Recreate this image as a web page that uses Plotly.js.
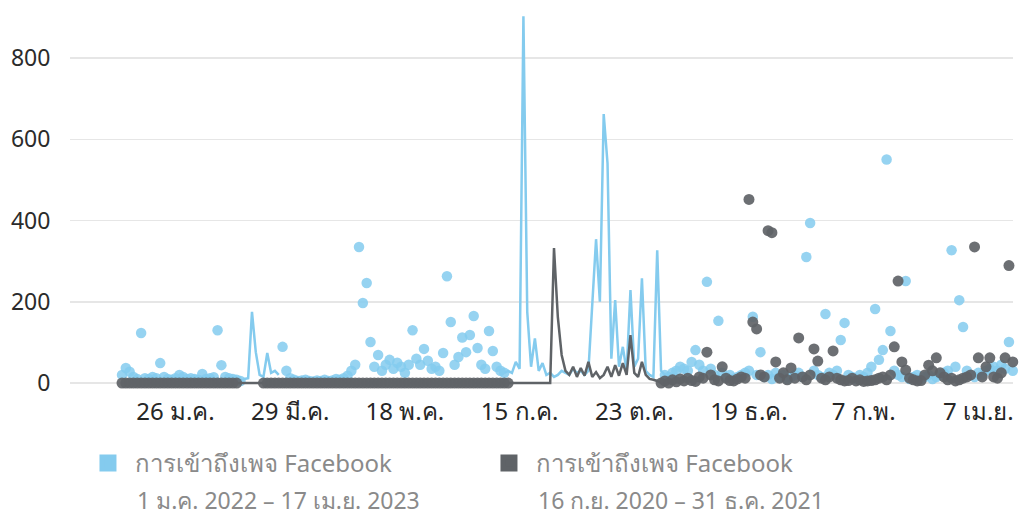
<!DOCTYPE html>
<html>
<head>
<meta charset="utf-8">
<script src="https://cdn.plot.ly/plotly-3.0.1.min.js"></script>
<style>html,body{margin:0;padding:0;background:#fff;}#chart{width:1025px;height:518px;}</style>
</head>
<body>
<div id="chart"></div>
<script>
const _ = null;
// Day index along the comparison axis (both periods are 472 days, sampled here at ~2 days/point)
const tickIndex  = [14, 44, 74, 104, 134, 164, 194, 224];
const tickLabels = ["26 ม.ค.", "29 มี.ค.", "18 พ.ค.", "15 ก.ค.", "23 ต.ค.", "19 ธ.ค.", "7 ก.พ.", "7 เม.ย."];

const seriesNames   = ["การเข้าถึงเพจ Facebook", "การเข้าถึงเพจ Facebook"];
const seriesPeriods = ["1 ม.ค. 2022 – 17 เม.ย. 2023", "16 ก.ย. 2020 – 31 ธ.ค. 2021"];

// Current period (1 Jan 2022 – 17 Apr 2023): isolated days drawn as dots
const currentDots = [
  20,37,28,15,10,123,12,10,15,12,
  49,15,10,8,12,20,15,10,12,10,
  8,22,10,12,14,130,44,15,12,10,
  8,5,_,_,_,_,_,_,_,_,
  _,_,89,30,12,8,5,6,8,5,
  4,6,5,8,5,6,10,8,12,18,
  30,45,335,197,246,101,40,69,30,45,
  57,35,50,40,25,45,130,60,45,84,
  55,35,40,30,74,263,150,45,64,112,
  76,118,165,86,45,35,128,79,40,30,
  25,_,_,_,_,_,_,_,_,_,
  _,_,_,_,_,_,_,_,_,_,
  _,_,_,_,_,_,_,_,_,_,
  _,_,_,_,_,_,_,_,_,_,
  _,_,20,15,25,30,40,35,30,52,
  81,45,30,249,35,20,153,25,15,20,
  10,15,20,25,30,163,20,76,15,20,
  10,25,15,20,10,15,20,25,15,310,
  394,30,20,15,170,25,20,30,106,148,
  20,15,10,20,15,25,40,182,57,81,
  550,128,30,20,15,251,10,15,20,10,
  15,20,10,15,20,25,30,327,40,204,
  138,30,20,15,25,20,30,35,40,30,
  45,35,101,30
];
// Current period: consecutive days drawn as a line
const currentLine = [
  _,_,_,_,_,_,_,_,_,_,
  _,_,_,_,_,_,_,_,_,_,
  _,_,_,_,_,_,_,_,_,_,
  _,5,10,12,175,76,20,15,74,25,
  30,20,_,_,_,_,_,_,_,_,
  _,_,_,_,_,_,_,_,_,_,
  _,_,_,_,_,_,_,_,_,_,
  _,_,_,_,_,_,_,_,_,_,
  _,_,_,_,_,_,_,_,_,_,
  _,_,_,_,_,_,_,_,_,_,
  25,30,25,52,35,903,175,40,110,30,
  49,20,25,15,20,30,25,20,35,25,
  30,20,30,197,354,200,662,541,60,204,
  40,89,30,229,40,60,258,30,20,15,
  327,30,20,_,_,_,_,_,_,_,
  _,_,_,_,_,_,_,_,_,_,
  _,_,_,_,_,_,_,_,_,_,
  _,_,_,_,_,_,_,_,_,_,
  _,_,_,_,_,_,_,_,_,_,
  _,_,_,_,_,_,_,_,_,_,
  _,_,_,_,_,_,_,_,_,_,
  _,_,_,_,_,_,_,_,_,_,
  _,_,_,_,_,_,_,_,_,_,
  _,_,_,_
];

// Previous period (16 Sep 2020 – 31 Dec 2021): isolated days drawn as dots
const previousDots = [
  0,0,0,0,0,0,0,0,0,0,
  0,0,0,0,0,0,0,0,0,0,
  0,0,0,0,0,0,0,0,0,0,
  0,_,_,_,_,_,_,0,0,0,
  0,0,0,0,0,0,0,0,0,0,
  0,0,0,0,0,0,0,0,0,0,
  0,0,0,0,0,0,0,0,0,0,
  0,0,0,0,0,0,0,0,0,0,
  0,0,0,0,0,0,0,0,0,0,
  0,0,0,0,0,0,0,0,0,0,
  0,0,_,_,_,_,_,_,_,_,
  _,_,_,_,_,_,_,_,_,_,
  _,_,_,_,_,_,_,_,_,_,
  _,_,_,_,_,_,_,_,_,_,
  _,0,5,0,8,3,10,5,12,6,
  4,15,12,76,20,8,5,40,12,6,
  5,10,15,12,452,150,133,20,15,375,
  370,52,12,25,8,37,12,111,15,8,
  20,84,54,12,8,15,79,12,8,5,
  6,12,5,8,4,5,6,8,12,15,
  8,20,89,251,52,32,12,8,5,6,
  20,44,30,62,25,15,8,12,5,8,
  12,15,20,335,62,15,40,62,15,12,
  25,62,289,52
];
// Previous period: consecutive days drawn as a line
const previousLine = [
  _,_,_,_,_,_,_,_,_,_,
  _,_,_,_,_,_,_,_,_,_,
  _,_,_,_,_,_,_,_,_,_,
  0,0,0,0,0,0,0,0,_,_,
  _,_,_,_,_,_,_,_,_,_,
  _,_,_,_,_,_,_,_,_,_,
  _,_,_,_,_,_,_,_,_,_,
  _,_,_,_,_,_,_,_,_,_,
  _,_,_,_,_,_,_,_,_,_,
  _,_,_,_,_,_,_,_,_,_,
  _,0,0,0,0,0,0,0,0,0,
  0,0,0,332,163,69,30,20,40,15,
  37,18,52,15,27,12,20,40,15,44,
  18,49,20,118,25,15,52,20,10,8,
  5,0,_,_,_,_,_,_,_,_,
  _,_,_,_,_,_,_,_,_,_,
  _,_,_,_,_,_,_,_,_,_,
  _,_,_,_,_,_,_,_,_,_,
  _,_,_,_,_,_,_,_,_,_,
  _,_,_,_,_,_,_,_,_,_,
  _,_,_,_,_,_,_,_,_,_,
  _,_,_,_,_,_,_,_,_,_,
  _,_,_,_,_,_,_,_,_,_,
  _,_,_,_
];

const yTicks = [0, 200, 400, 600, 800];

const BLUE = '#84cbee';
const GRAY = '#5f6367';
const LEGEND_GRAY = '#8a8a8a';
const idx = a => a.map((_v, i) => i);
const FONT = '"Noto Sans", "DejaVu Sans", sans-serif';

const traces = [
  {type:'scatter', mode:'lines', x: idx(currentLine), y: currentLine, connectgaps:false,
   line:{color:BLUE, width:2.5}, showlegend:false, hoverinfo:'y'},
  {type:'scatter', mode:'markers', x: idx(currentDots), y: currentDots,
   marker:{color:BLUE, size:10.5, opacity:0.85}, showlegend:false, cliponaxis:false, hoverinfo:'y'},
  {type:'scatter', mode:'lines', x: idx(previousLine), y: previousLine, connectgaps:false,
   line:{color:GRAY, width:2.5}, showlegend:false, hoverinfo:'y'},
  {type:'scatter', mode:'markers', x: idx(previousDots), y: previousDots,
   marker:{color:GRAY, size:11, opacity:0.92}, showlegend:false, cliponaxis:false, hoverinfo:'y'},
  // legend entries
  {type:'bar', x:[_], y:[_], name: seriesNames[0], marker:{color:BLUE, line:{color:BLUE, width:5}}, hoverinfo:'skip'},
  {type:'bar', x:[_], y:[_], name: seriesNames[1], marker:{color:GRAY, line:{color:GRAY, width:5}}, hoverinfo:'skip'}
];

const layout = {
  width:1025, height:518,
  margin:{l:70, r:12, t:10, b:123},
  paper_bgcolor:'#fff', plot_bgcolor:'#fff',
  font:{family:FONT, color:'#333', size:20},
  xaxis:{
    range:[-13.6, 233.06], tickmode:'array', tickvals: tickIndex, ticktext: tickLabels,
    showgrid:false, zeroline:false, showline:false,
    ticks:'', tickfont:{size:24, color:'#262626', family:FONT}
  },
  yaxis:{
    range:[-29.5, 918.2], tickmode:'array', tickvals: yTicks,
    showgrid:true, gridcolor:'#e6e6e6', gridwidth:1.5,
    zeroline:false, showline:false,
    ticks:'outside', ticklen:14, tickcolor:'rgba(0,0,0,0)',
    tickfont:{size:23, color:'#2b2b2b', family:FONT}
  },
  showlegend:true,
  legend:{
    orientation:'h', xref:'container', yref:'container',
    x:0.079, y:0.149, xanchor:'left', yanchor:'top',
    entrywidth:342, entrywidthmode:'pixels', itemwidth:44,
    font:{size:24, color:LEGEND_GRAY, family:FONT},
    bgcolor:'rgba(0,0,0,0)'
  },
  annotations:[
    {xref:'paper', yref:'paper', x:(135-70)/943, y:-(500-395)/385, xanchor:'left', yanchor:'middle',
     text: seriesPeriods[0], showarrow:false, font:{size:23, color:LEGEND_GRAY, family:FONT}},
    {xref:'paper', yref:'paper', x:(536-70)/943, y:-(500-395)/385, xanchor:'left', yanchor:'middle',
     text: seriesPeriods[1], showarrow:false, font:{size:23, color:LEGEND_GRAY, family:FONT}}
  ],
  hovermode:'closest'
};

Plotly.newPlot('chart', traces, layout, {displayModeBar:false, staticPlot:true});
</script>
</body>
</html>
